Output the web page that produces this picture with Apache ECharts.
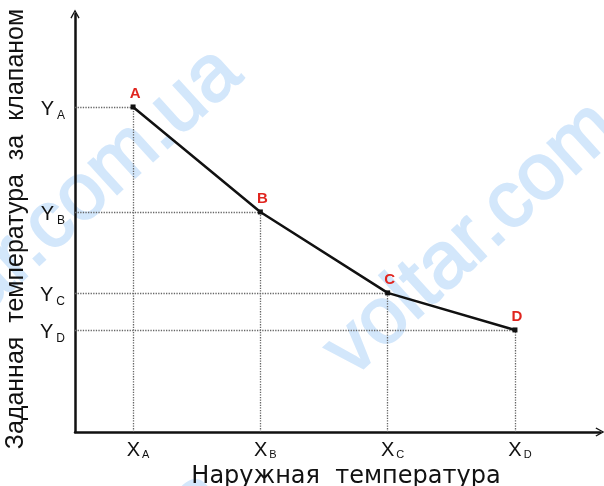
<!DOCTYPE html>
<html>
<head>
<meta charset="utf-8">
<script src="https://cdn.jsdelivr.net/npm/echarts@6/dist/echarts.min.js"></script>
<style>
  html, body { margin: 0; padding: 0; background: #fff; }
  #chart { width: 604px; height: 486px; }
</style>
</head>
<body>
<div id="chart"></div>
<script>
// точки характеристики (условные единицы)
var pointNames = ['A', 'B', 'C', 'D'];
var xValues = [1, 2, 3, 4];
var yValues = [100, 67.7, 42.8, 31.4];
var xRange = [0.544, 4.668];
var yRange = [0, 128.6];
var xTitle = 'Наружная  температура';
var yTitle = 'Заданная  температура  за  клапаном';
var watermark = 'voltar.com.ua';

var myChart = echarts.init(document.getElementById('chart'));

var pts = xValues.map(function (x, i) { return [x, yValues[i]]; });

// пунктир от точки к осям
var guides = [];
pts.forEach(function (p) {
  guides.push([{ coord: [p[0], yRange[0]] }, { coord: [p[0], p[1]] }]);
  guides.push([{ coord: [xRange[0], p[1]] }, { coord: [p[0], p[1]] }]);
});

var arrow = 'path://M0,9 L5,0 L10,9 L8.7,9.8 L5,2.8 L1.3,9.8 Z';

function sub(fs, pad) {
  return {
    m: { fontSize: 20, fontFamily: 'Liberation Sans', color: '#111' },
    s: { fontSize: fs, fontFamily: 'Liberation Sans', color: '#111', padding: pad }
  };
}

// водяной знак
function wm(x, y) {
  return {
    type: 'text', x: x, y: y, rotation: 0.74, z: -10, silent: true,
    style: {
      text: watermark, fontSize: 80, fontFamily: 'Liberation Sans',
      fill: '#d3e7fb', stroke: '#d3e7fb', lineWidth: 2, verticalAlign: 'bottom'
    }
  };
}

var option = {
  animation: false,
  backgroundColor: '#fff',
  graphic: [wm(-95, 412), wm(364, 392), wm(-110, 836)],
  grid: { left: 75, right: 4, top: 14, bottom: 54, outerBoundsMode: 'none' },
  xAxis: {
    type: 'value',
    min: xRange[0],
    max: xRange[1],
    name: xTitle,
    nameLocation: 'middle',
    nameGap: 23,
    nameTextStyle: { fontSize: 24, fontFamily: 'DejaVu Sans', color: '#111', padding: [0, 0, 0, 17] },
    axisLine: { lineStyle: { color: '#111', width: 2.5 }, symbol: ['none', arrow], symbolSize: [14, 9] },
    axisTick: { show: false },
    splitLine: { show: false },
    axisLabel: {
      customValues: xValues,
      margin: 8,
      padding: [0, 0, 0, 10],
      formatter: function (v) { return '{m|X}{s|' + pointNames[xValues.indexOf(v)] + '}'; },
      rich: sub(11, [9, 0, 0, 2])
    }
  },
  yAxis: {
    type: 'value',
    min: yRange[0],
    max: yRange[1],
    name: yTitle,
    nameLocation: 'middle',
    nameGap: 42,
    nameRotate: 90,
    nameTextStyle: { fontSize: 25, fontFamily: 'Liberation Sans', color: '#111', padding: [0, 12, 0, 0] },
    axisLine: { lineStyle: { color: '#111', width: 2.5 }, symbol: ['none', arrow], symbolSize: [14, 9] },
    axisTick: { show: false },
    splitLine: { show: false },
    axisLabel: {
      customValues: yValues,
      margin: 10,
      padding: [6, 0, 0, 0],
      formatter: function (v) { return '{m|Y}{s|' + pointNames[yValues.indexOf(v)] + '}'; },
      rich: sub(12, [11, 0, 0, 3])
    }
  },
  series: [{
    type: 'line',
    data: pts,
    z: 5,
    symbol: 'rect',
    symbolSize: 5,
    itemStyle: { color: '#111' },
    lineStyle: { color: '#111', width: 2.5 },
    label: {
      show: true,
      position: 'top',
      distance: 3,
      offset: [2, 0],
      formatter: function (p) { return pointNames[p.dataIndex]; },
      color: '#e0251f',
      fontWeight: 'bold',
      fontSize: 15,
      fontFamily: 'Liberation Sans'
    },
    markLine: {
      silent: true,
      symbol: 'none',
      label: { show: false },
      lineStyle: { color: '#666', type: 'dotted', width: 1.3 },
      data: guides
    }
  }]
};

myChart.setOption(option);
</script>
</body>
</html>
